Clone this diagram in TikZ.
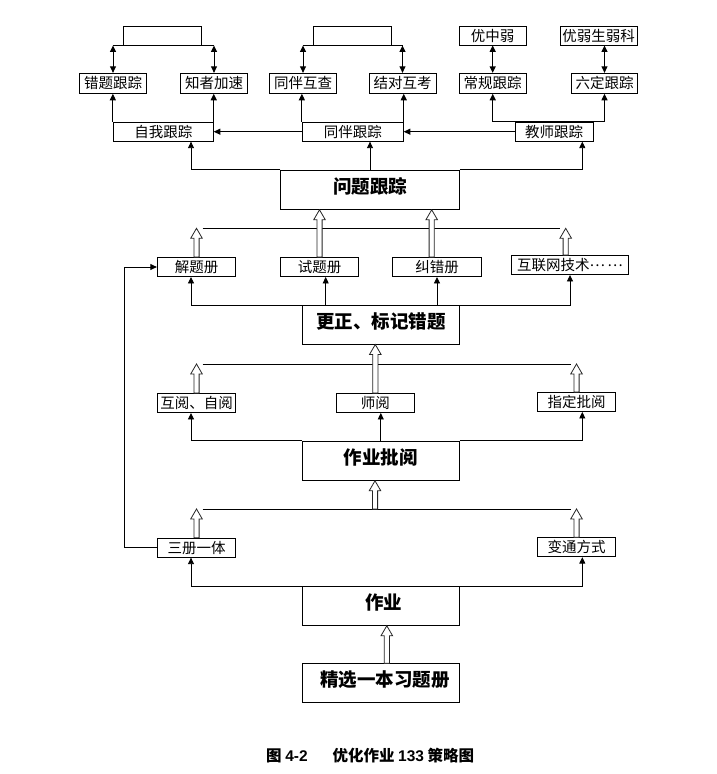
\documentclass[tikz,border=0pt]{standalone}
\usepackage{fontspec}
\newfontfamily\cjk{Noto Sans CJK SC}
\newfontfamily\arialf{Liberation Sans}
\usetikzlibrary{arrows.meta,calc}
\tikzset{
  box/.style={draw, line width=0.9pt, inner sep=0pt, minimum height=19pt,
    font=\cjk\fontsize{14.5}{16}\selectfont},
  bigbox/.style={draw, line width=0.9pt, inner sep=0pt, minimum width=157pt,
    minimum height=38.6pt, text height=14pt, text depth=7pt,
    font=\cjk\bfseries\fontsize{18.5}{20}\selectfont},
  arr/.style={line width=0.9pt, -{Triangle[length=6.5pt,width=6pt]}},
  arrtwo/.style={line width=0.9pt, {Triangle[length=6.5pt,width=6pt]}-{Triangle[length=6.5pt,width=6pt]}},
  ln/.style={line width=0.9pt},
  hol/.style={draw=black!85, line width=0.8pt, fill=white, line join=miter},
}
\newcommand\hollowarrow[2]{\draw[hol] let \p1=#1, \p2=#2 in
  (\x1-2.6pt,\y1) -- (\x1-2.6pt,\y2-10pt) -- (\x1-5.8pt,\y2-10pt) -- (\x1,\y2)
  -- (\x1+5.8pt,\y2-10pt) -- (\x1+2.6pt,\y2-10pt) -- (\x1+2.6pt,\y1) -- cycle;}
\begin{document}
\begin{tikzpicture}[x=1pt,y=-1pt]
\useasboundingbox (0,0) rectangle (717,774);
\fill[white] (0,0) rectangle (717,774);
% helper columns / rows
\coordinate (cL) at (191,0);
\coordinate (cR) at (582.3,0);
\coordinate (fb) at (124.3,0);
\coordinate (h1) at (0,228.3);
\coordinate (h2) at (0,364);
\coordinate (h3) at (0,509);
% top row
\node[box, minimum width=78.4pt] (br1) at (162.5,35.5) {};
\node[box, minimum width=78.4pt] (br2) at (352.5,35.5) {};
\node[box, minimum width=66.7pt] (yzr) at (492.7,35.5) {优中弱};
\node[box, minimum width=77.3pt] (yrs) at (598.7,35.5) {优弱生弱科};
% second row
\node[box, minimum width=67.4pt, minimum height=20pt] (ct) at (113,83.3) {错题跟踪};
\node[box, minimum width=66.6pt, minimum height=20pt] (zz) at (214,83.3) {知者加速};
\node[box, minimum width=67.4pt, minimum height=20pt] (th) at (303,83.3) {同伴互查};
\node[box, minimum width=67pt, minimum height=20pt] (jd) at (402.5,83.3) {结对互考};
\node[box, minimum width=66.7pt, minimum height=20pt] (cg) at (492.7,83.3) {常规跟踪};
\node[box, minimum width=65.6pt, minimum height=20pt] (ld) at (604.5,83.3) {六定跟踪};
% third row
\node[box, minimum width=100pt] (zw) at (163.3,131.7) {自我跟踪};
\node[box, minimum width=101pt] (tb) at (352.8,131.7) {同伴跟踪};
\node[box, minimum width=78.3pt] (js) at (554.2,131.7) {教师跟踪};
% main column
\node[bigbox, minimum width=178.6pt, minimum height=39.3pt] (wt) at (370,189.7) {问题跟踪};
\node[box, minimum width=78.4pt] (jt) at (196.5,267) {解题册};
\node[box, minimum width=78.3pt] (st) at (319.5,267) {试题册};
\node[box, minimum width=89.4pt] (jc) at (437,267) {纠错册};
\node[box, minimum width=116.6pt] (hl) at (570,265) {互联网技术\raisebox{4.3pt}{…\,…}};
\node[bigbox, minimum height=38.3pt] (gz) at (380.8,324.9) {更正、标记错题};
\node[box, minimum width=78.4pt] (hy) at (196.5,403) {互阅、自阅};
\node[box, minimum width=78pt] (sy) at (375.3,403) {师阅};
\node[box, minimum width=78.4pt] (zd) at (576.5,402) {指定批阅};
\node[bigbox, minimum height=39.3pt] (pi) at (380.8,460.7) {作业批阅};
\node[box, minimum width=78.4pt] (sc) at (196.5,547.7) {三册一体};
\node[box, minimum width=78.4pt] (bt) at (576.5,547.2) {变通方式};
\node[bigbox] (zy) at (380.8,606) {\hspace{6pt}作业};
\node[bigbox] (jx) at (380.8,683) {\hspace{8pt}精选一本习题册};
% caption
\node[anchor=base west, inner sep=0pt] (cap) at (266,761.7)
  {\cjk\bfseries\fontsize{15.5}{17}\selectfont 图 {\arialf\bfseries 4-2}\hspace{25pt}优化作业 {\arialf\bfseries 133} 策略图};
% top brackets and double arrows
\draw[ln] (ct.north |- br1.south) -- (zz.north |- br1.south);
\draw[arrtwo] (ct.north |- br1.south) -- (ct.north);
\draw[arrtwo] (zz.north |- br1.south) -- (zz.north);
\draw[ln] (th.north |- br2.south) -- (jd.north |- br2.south);
\draw[arrtwo] (th.north |- br2.south) -- (th.north);
\draw[arrtwo] (jd.north |- br2.south) -- (jd.north);
\draw[arrtwo, line width=1.3pt] (yzr.south) -- (cg.north);
\draw[arrtwo] (yrs.south -| ld.north) -- (ld.north);
% third row to second row
\draw[arr] (zw.north west) -- (zw.north west |- ct.south);
\draw[arr] (zw.north east) -- (zw.north east |- zz.south);
\draw[arr] (tb.north west) -- (tb.north west |- th.south);
\draw[arr] (tb.north east) -- (tb.north east |- jd.south);
\draw[arr, line width=1.2pt] (js.north) -| (cg.south);
\draw[arr] (js.north) -| (ld.south);
\draw[arr] (tb.west) -- (zw.east);
\draw[arr] (js.west) -- (tb.east);
% problem tracking up
\draw[arr] (wt.north west) -| (cL |- zw.south);
\draw[arr] (wt.north) -- (wt.north |- tb.south);
\draw[arr] (wt.north east) -| (cR |- js.south);
% row 4 hollow arrows
\draw[ln] ([xshift=6pt]jt.north |- h1) -- ([xshift=-10pt]hl.north |- h1);
\hollowarrow{(jt.north)}{(jt.north |- h1)}
\hollowarrow{([xshift=-4.3pt]hl.north)}{([xshift=-4.3pt]hl.north |- h1)}
\hollowarrow{(st.north)}{(st.north |- wt.south)}
\hollowarrow{([xshift=-5.3pt]jc.north)}{([xshift=-5.3pt]jc.north |- wt.south)}
% correction to row 4
\draw[arr] (gz.north west) -| (cL |- jt.south);
\draw[arr] ([xshift=6.2pt]st.south |- gz.north) -- ([xshift=6.2pt]st.south);
\draw[arr] (jc.south |- gz.north) -- (jc.south);
\draw[arr] (gz.north east) -| (hl.south);
% row 5 hollow arrows
\draw[ln] ([xshift=6pt]hy.north |- h2) -- ([xshift=-6pt]zd.north |- h2);
\hollowarrow{(hy.north)}{(hy.north |- h2)}
\hollowarrow{(zd.north)}{(zd.north |- h2)}
\hollowarrow{(sy.north)}{(sy.north |- gz.south)}
% marking to row 5
\draw[arr] (pi.north west) -| (cL |- hy.south);
\draw[arr] (pi.north) -- (pi.north |- sy.south);
\draw[arr] (pi.north east) -| (cR |- zd.south);
% row 6 hollow arrows
\draw[ln] ([xshift=6pt]sc.north |- h3) -- ([xshift=-6pt]bt.north |- h3);
\hollowarrow{(sc.north)}{(sc.north |- h3)}
\hollowarrow{(bt.north)}{(bt.north |- h3)}
\hollowarrow{([xshift=-5.8pt]pi.south |- h3)}{([xshift=-5.8pt]pi.south)}
% homework to row 6
\draw[arr] (zy.north west) -| (cL |- sc.south);
\draw[arr] (zy.north east) -| (cR |- bt.south);
% feedback loop
\draw[arr] (sc.west) -- (fb |- sc.west) -- (fb |- jt.west) -- (jt.west);
% selected workbook to homework
\hollowarrow{([xshift=6pt]jx.north)}{([xshift=6pt]zy.south)}
\end{tikzpicture}
\end{document}
